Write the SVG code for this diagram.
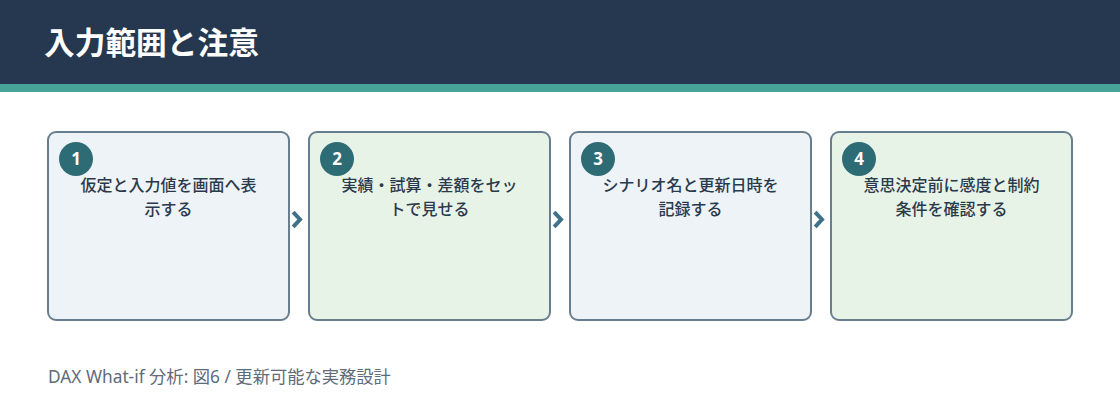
<svg xmlns="http://www.w3.org/2000/svg" width="1120" height="420" viewBox="0 0 1120 420">
<defs>
<style>
.box{stroke:#687e8e;stroke-width:2}
.b1{fill:#eef3f8}
.b2{fill:#e8f3e8}
.num{fill:#2d6b75}
.numt{fill:#ffffff;font-family:"Noto Sans","Noto Sans CJK JP",sans-serif;font-size:17px;font-weight:700;text-anchor:middle}
.lbl{fill:#2b3a4b;font-family:"Noto Sans CJK JP",sans-serif;font-size:16px;font-weight:500;text-anchor:middle}
.chev{fill:none;stroke:#3f7189;stroke-width:4;stroke-linecap:square;stroke-linejoin:miter}
</style>
</defs>
<rect x="0" y="0" width="1120" height="420" fill="#ffffff"/>
<rect x="0" y="0" width="1120" height="84" fill="#253850"/>
<rect x="0" y="84" width="1120" height="8" fill="#48a398"/>
<text x="44" y="54" fill="#ffffff" font-family="'Noto Sans CJK JP',sans-serif" font-size="30.7" font-weight="600">入力範囲と注意</text>

<g id="connectors">
<path class="chev" d="M294.5,213.5 L300,219.5 L294.5,225.5"/>
<path class="chev" d="M555.5,213.5 L561,219.5 L555.5,225.5"/>
<path class="chev" d="M816.5,213.5 L822,219.5 L816.5,225.5"/>
</g>

<g id="node1">
<rect class="box b1" x="48" y="132" width="241" height="188" rx="8"/>
<circle class="num" cx="76" cy="159" r="17"/>
<text class="numt" x="76" y="165">1</text>
<text class="lbl" x="168.5" y="191">仮定と入力値を画面へ表</text>
<text class="lbl" x="168.5" y="215">示する</text>
</g>
<g id="node2">
<rect class="box b2" x="309" y="132" width="241" height="188" rx="8"/>
<circle class="num" cx="337" cy="159" r="17"/>
<text class="numt" x="337" y="165">2</text>
<text class="lbl" x="429.5" y="191">実績・試算・差額をセッ</text>
<text class="lbl" x="429.5" y="215">トで見せる</text>
</g>
<g id="node3">
<rect class="box b1" x="570" y="132" width="241" height="188" rx="8"/>
<circle class="num" cx="598" cy="159" r="17"/>
<text class="numt" x="598" y="165">3</text>
<text class="lbl" x="690.5" y="191">シナリオ名と更新日時を</text>
<text class="lbl" x="690.5" y="215">記録する</text>
</g>
<g id="node4">
<rect class="box b2" x="831" y="132" width="241" height="188" rx="8"/>
<circle class="num" cx="859" cy="159" r="17"/>
<text class="numt" x="859" y="165">4</text>
<text class="lbl" x="951.5" y="191">意思決定前に感度と制約</text>
<text class="lbl" x="951.5" y="215">条件を確認する</text>
</g>

<text x="48" y="383" fill="#5f6b78" font-family="'Noto Sans','Noto Sans CJK JP',sans-serif" font-size="17.3">DAX What-if 分析: 図6 / 更新可能な実務設計</text>
</svg>
